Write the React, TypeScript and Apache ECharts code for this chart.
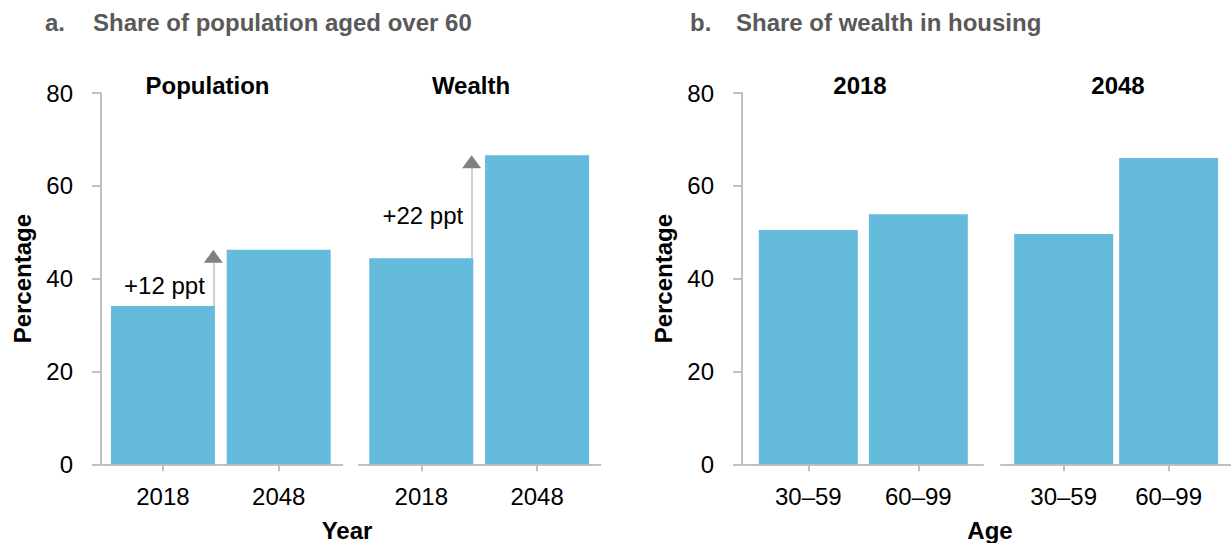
import React, { useEffect, useRef } from "react";
import * as echarts from "echarts";

// ---- data ----
const yearCategories = ["2018", "2048"];
const populationShare = [34.1, 46.2];
const wealthShare = [44.4, 66.6];
const ageCategories = ["30–59", "60–99"];
const housing2018 = [50.5, 53.9];
const housing2048 = [49.6, 66.0];
const yTicks = [0, 20, 40, 60, 80];
const changeLabels = ["+12 ppt", "+22 ppt"];
const changeLabelY = [38.6, 53.7];
const arrowX = 0.435;

const FONT = '"Liberation Sans", Arial, Helvetica, sans-serif';
const BAR = "#65BBDB";
const AXIS = "#c0c0c0";
const FS = 24;

const GRID_TOP = 93;
const GRID_H = 371.3;
const Y_MAX = 80;
const HEAD_H = 13;

export default function App() {
  const ref = useRef<HTMLDivElement>(null);

  useEffect(() => {
    if (!ref.current) return;
    const chart = echarts.init(ref.current, undefined, { renderer: "svg" });

    const grids = [
      { left: 101, width: 241.4 },
      { left: 359, width: 241.4 },
      { left: 742, width: 241 },
      { left: 1001, width: 241 },
    ].map((g) => ({ ...g, top: GRID_TOP, height: GRID_H, containLabel: false }));

    const xRange = [
      [-0.535, 1.55],
      [-0.538, 1.547],
      [-0.603, 1.588],
      [-0.597, 1.594],
    ];
    const cats = [yearCategories, yearCategories, ageCategories, ageCategories];

    const xAxis = grids.map((_, i) => ({
      type: "value",
      gridIndex: i,
      min: xRange[i][0],
      max: xRange[i][1],
      axisLine: { show: true, onZero: false, lineStyle: { color: AXIS, width: 2 } },
      axisTick: {
        show: true,
        length: 7,
        customValues: [0, 1],
        lineStyle: { color: AXIS, width: 2 },
      },
      axisLabel: {
        show: true,
        customValues: [0, 1],
        formatter: (v: number) => cats[i][Math.round(v)] ?? "",
        fontSize: FS,
        fontFamily: FONT,
        color: "#000",
        margin: 20,
      },
      splitLine: { show: false },
    }));

    const yAxis = grids.map((_, i) => {
      const visible = i === 0 || i === 2;
      return {
        type: "value",
        gridIndex: i,
        min: yTicks[0],
        max: yTicks[yTicks.length - 1],
        interval: yTicks[1] - yTicks[0],
        show: visible,
        name: visible ? "Percentage" : "",
        nameLocation: "middle",
        nameRotate: 90,
        nameGap: 67,
        nameTextStyle: { fontSize: FS, fontWeight: "bold", fontFamily: FONT, color: "#000" },
        axisLine: { show: true, onZero: false, lineStyle: { color: AXIS, width: 2 } },
        axisTick: { show: true, length: 9, lineStyle: { color: AXIS, width: 2 } },
        axisLabel: { show: true, fontSize: FS, fontFamily: FONT, color: "#000", margin: 28 },
        splitLine: { show: false },
      };
    });

    const headUnits = (HEAD_H * Y_MAX) / GRID_H;

    const annotated = (vals: number[], k: number) => ({
      markLine: {
        silent: true,
        symbol: ["none", "none"],
        lineStyle: { color: AXIS, width: 1.5, type: "solid" },
        label: { show: false },
        data: [[{ coord: [arrowX, vals[0]] }, { coord: [arrowX, vals[1] - headUnits] }]],
      },
      markPoint: {
        silent: true,
        data: [
          {
            coord: [arrowX, vals[1]],
            symbol: "triangle",
            symbolSize: [19, HEAD_H],
            symbolOffset: [0, HEAD_H / 2],
            itemStyle: { color: "#808080" },
            label: { show: false },
          },
          {
            coord: [arrowX, changeLabelY[k]],
            symbol: "circle",
            symbolSize: 1,
            itemStyle: { color: "rgba(0,0,0,0)" },
            label: {
              show: true,
              position: "left",
              distance: 8,
              formatter: changeLabels[k],
              fontSize: FS,
              fontFamily: FONT,
              color: "#000",
            },
          },
        ],
      },
    });

    const bar = (i: number, vals: number[], w: number, extra: object = {}) => ({
      type: "bar",
      xAxisIndex: i,
      yAxisIndex: i,
      data: vals.map((v, j) => [j, v]),
      barWidth: w,
      itemStyle: { color: BAR },
      silent: true,
      ...extra,
    });

    const text = (t: string, x: number, y: number, opts: any = {}) => ({
      type: "text",
      x,
      y,
      silent: true,
      style: {
        text: t,
        fontSize: opts.fontSize ?? FS,
        fontWeight: "bold",
        fontFamily: FONT,
        fill: opts.fill ?? "#000",
        align: opts.align ?? "center",
        verticalAlign: "middle",
      },
    });

    const titleStyle = { fontSize: 24, fill: "#595959", align: "left" };

    chart.setOption({
      animation: false,
      grid: grids,
      xAxis,
      yAxis,
      series: [
        bar(0, populationShare, 104, annotated(populationShare, 0)),
        bar(1, wealthShare, 104, annotated(wealthShare, 1)),
        bar(2, housing2018, 99),
        bar(3, housing2048, 99),
      ],
      graphic: [
        text("a.", 45, 22, titleStyle),
        text("Share of population aged over 60", 93, 22, titleStyle),
        text("b.", 690, 22, titleStyle),
        text("Share of wealth in housing", 736, 22, titleStyle),
        text("Population", 207.5, 85),
        text("Wealth", 471, 85),
        text("2018", 860, 85),
        text("2048", 1118, 85),
        text("Year", 347, 530),
        text("Age", 990, 530),
      ],
    });

    return () => chart.dispose();
  }, []);

  return (
    <div
      ref={ref}
      style={{ position: "absolute", left: 0, top: 0, width: 1231, height: 543 }}
    />
  );
}
